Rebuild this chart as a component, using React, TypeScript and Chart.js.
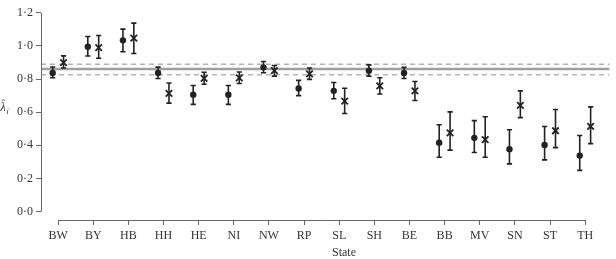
import React, { useEffect, useRef } from "react";
import { Chart, registerables } from "chart.js";

Chart.register(...registerables);

const states = ["BW", "BY", "HB", "HH", "HE", "NI", "NW", "RP", "SL", "SH", "BE", "BB", "MV", "SN", "ST", "TH"];

const dotMean = [0.837, 0.996, 1.034, 0.837, 0.706, 0.706, 0.871, 0.743, 0.729, 0.851, 0.837, 0.416, 0.445, 0.376, 0.402, 0.338];
const dotLow = [0.808, 0.939, 0.965, 0.804, 0.647, 0.647, 0.838, 0.7, 0.681, 0.818, 0.804, 0.328, 0.357, 0.288, 0.312, 0.249];
const dotHigh = [0.873, 1.057, 1.102, 0.872, 0.761, 0.761, 0.906, 0.792, 0.779, 0.886, 0.871, 0.524, 0.549, 0.494, 0.514, 0.459];

const crossMean = [0.9, 0.99, 1.047, 0.714, 0.804, 0.808, 0.851, 0.832, 0.667, 0.759, 0.729, 0.475, 0.435, 0.641, 0.488, 0.514];
const crossLow = [0.867, 0.926, 0.955, 0.655, 0.769, 0.773, 0.818, 0.798, 0.592, 0.71, 0.671, 0.371, 0.328, 0.567, 0.386, 0.41];
const crossHigh = [0.94, 1.063, 1.138, 0.776, 0.841, 0.843, 0.882, 0.867, 0.745, 0.808, 0.785, 0.602, 0.573, 0.729, 0.616, 0.632];

const yTicks = [0, 0.2, 0.4, 0.6, 0.8, 1.0, 1.2];
const overallMean = 0.861;
const overallLow = 0.826;
const overallHigh = 0.89;

const X_MIN = -0.487;
const X_MAX = 15.695;
const Y_MIN = -0.051;
const Y_MAX = 1.239;
const OFFSET = 0.155;

const FONT = "'Liberation Serif', 'Times New Roman', serif";
const INK = "#222222";

const errorBarPlugin = {
  id: "errorBars",
  afterDatasetsDraw(chart: any) {
    const ctx = chart.ctx;
    const yScale = chart.scales.y;
    const sets = [
      { idx: 0, low: dotLow, high: dotHigh },
      { idx: 1, low: crossLow, high: crossHigh },
    ];
    ctx.save();
    ctx.strokeStyle = INK;
    ctx.lineWidth = 1.6;
    sets.forEach((s) => {
      const meta = chart.getDatasetMeta(s.idx);
      meta.data.forEach((el: any, i: number) => {
        const x = el.x;
        const y1 = yScale.getPixelForValue(s.low[i]);
        const y2 = yScale.getPixelForValue(s.high[i]);
        ctx.beginPath();
        ctx.moveTo(x, y1);
        ctx.lineTo(x, y2);
        ctx.moveTo(x - 2.6, y1);
        ctx.lineTo(x + 2.6, y1);
        ctx.moveTo(x - 2.6, y2);
        ctx.lineTo(x + 2.6, y2);
        ctx.stroke();
      });
    });
    ctx.restore();
  },
};

const axesPlugin = {
  id: "rAxes",
  afterDraw(chart: any) {
    const ctx = chart.ctx;
    const xs = chart.scales.x;
    const ys = chart.scales.y;
    const area = chart.chartArea;
    ctx.save();
    ctx.strokeStyle = "#666666";
    ctx.lineWidth = 1;
    // y axis line from first to last tick
    ctx.beginPath();
    ctx.moveTo(area.left + 0.5, ys.getPixelForValue(yTicks[0]));
    ctx.lineTo(area.left + 0.5, ys.getPixelForValue(yTicks[yTicks.length - 1]));
    ctx.stroke();
    // x axis line from first to last category
    ctx.beginPath();
    ctx.moveTo(xs.getPixelForValue(0), area.bottom + 0.5);
    ctx.lineTo(xs.getPixelForValue(states.length - 1), area.bottom + 0.5);
    ctx.stroke();

    // x title
    ctx.fillStyle = "#333333";
    ctx.font = `12px ${FONT}`;
    ctx.textAlign = "center";
    ctx.textBaseline = "middle";
    ctx.fillText("State", 344, 253);

    // y title: lambda hat with subscript i
    ctx.font = `italic 12px ${FONT}`;
    ctx.textAlign = "left";
    ctx.textBaseline = "alphabetic";
    ctx.fillText("λ", 0.5, 111);
    ctx.font = `11px ${FONT}`;
    ctx.fillText("ˆ", 1.5, 107);
    ctx.font = `italic 8px ${FONT}`;
    ctx.fillText("i", 6.5, 114);
    ctx.restore();
  },
};

export default function App() {
  const canvasRef = useRef<HTMLCanvasElement | null>(null);

  useEffect(() => {
    if (!canvasRef.current) return;
    const dotData = dotMean.map((v, i) => ({ x: i - OFFSET, y: v }));
    const crossData = crossMean.map((v, i) => ({ x: i + OFFSET, y: v }));
    const hLine = (v: number) => [
      { x: X_MIN, y: v },
      { x: X_MAX, y: v },
    ];

    const chart = new Chart(canvasRef.current, {
      type: "scatter",
      data: {
        datasets: [
          {
            label: "dot",
            data: dotData,
            pointStyle: "circle",
            pointRadius: 3.2,
            pointBackgroundColor: INK,
            pointBorderColor: INK,
            pointBorderWidth: 0,
            showLine: false,
          },
          {
            label: "cross",
            data: crossData,
            pointStyle: "crossRot",
            pointRadius: 4.6,
            pointBorderColor: INK,
            pointBackgroundColor: INK,
            pointBorderWidth: 1.8,
            showLine: false,
          },
          {
            label: "mean",
            data: hLine(overallMean),
            showLine: true,
            borderColor: "#a0a0a0",
            borderWidth: 2.4,
            pointRadius: 0,
          },
          {
            label: "low",
            data: hLine(overallLow),
            showLine: true,
            borderColor: "#b4b4b4",
            borderWidth: 1.4,
            borderDash: [5, 4],
            pointRadius: 0,
          },
          {
            label: "high",
            data: hLine(overallHigh),
            showLine: true,
            borderColor: "#b4b4b4",
            borderWidth: 1.4,
            borderDash: [5, 4],
            pointRadius: 0,
          },
        ],
      },
      options: {
        animation: false,
        responsive: false,
        devicePixelRatio: 1,
        layout: { padding: 0 },
        plugins: {
          legend: { display: false },
          tooltip: { enabled: false },
          title: { display: false },
        },
        scales: {
          x: {
            type: "linear",
            min: X_MIN,
            max: X_MAX,
            border: { display: false },
            grid: {
              drawOnChartArea: false,
              drawTicks: true,
              tickLength: 5,
              color: "#666666",
              lineWidth: 1,
            },
            ticks: {
              autoSkip: false,
              maxRotation: 0,
              minRotation: 0,
              padding: 4,
              color: "#333333",
              font: { family: FONT, size: 12 },
              callback: (v: any) => states[Math.round(Number(v))] ?? "",
            },
            afterBuildTicks: (scale: any) => {
              scale.ticks = states.map((_, i) => ({ value: i }));
            },
            afterFit: (scale: any) => {
              scale.height = 39;
              scale.paddingLeft = 0;
              scale.paddingRight = 0;
            },
          },
          y: {
            type: "linear",
            min: Y_MIN,
            max: Y_MAX,
            border: { display: false },
            grid: {
              drawOnChartArea: false,
              drawTicks: true,
              tickLength: 5,
              color: "#666666",
              lineWidth: 1,
            },
            ticks: {
              padding: 3,
              color: "#333333",
              font: { family: FONT, size: 12 },
              callback: (v: any) => Number(v).toFixed(1).replace(".", "·"),
            },
            afterBuildTicks: (scale: any) => {
              scale.ticks = yTicks.map((v) => ({ value: v }));
            },
            afterFit: (scale: any) => {
              scale.width = 41;
              scale.paddingTop = 0;
              scale.paddingBottom = 0;
            },
          },
        },
      },
      plugins: [errorBarPlugin, axesPlugin],
    });

    return () => {
      chart.destroy();
    };
  }, []);

  return (
    <div style={{ position: "absolute", left: 0, top: 0, width: 616, height: 259, background: "#ffffff" }}>
      <canvas ref={canvasRef} width={616} height={259} style={{ display: "block" }} />
    </div>
  );
}
